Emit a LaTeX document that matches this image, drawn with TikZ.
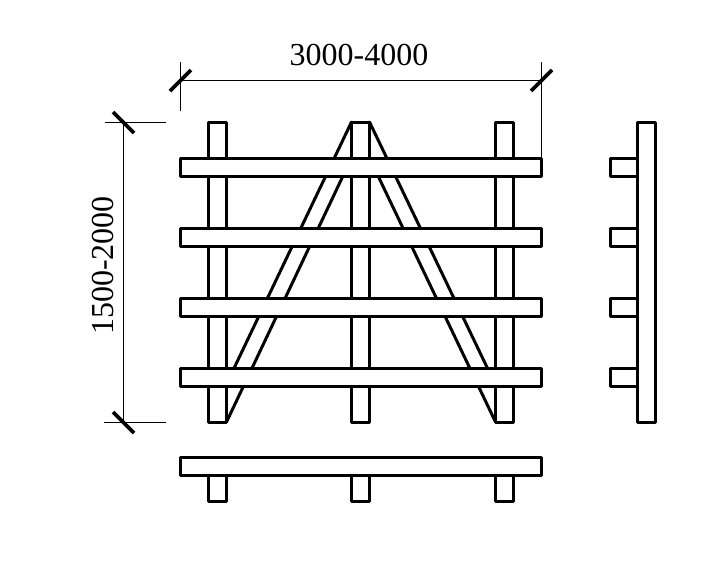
\documentclass[tikz,border=0pt]{standalone}
\usepackage{fontspec}
\setmainfont{Liberation Serif}
\tikzset{
  timber/.style={draw=black,fill=white,line width=3pt,line join=round},
  brace/.style={line width=3pt,line cap=round},
  dimline/.style={line width=1pt},
  dimtick/.style={line width=3.6pt},
  dimtext/.style={font=\fontsize{32}{32}\selectfont,inner sep=0pt}
}
\begin{document}
\begin{tikzpicture}[x=1pt,y=-1pt]
  \useasboundingbox (0,0) rectangle (721,571);
  % braces
  \draw [brace] (351.5,122)--(226.5,384) ;
  \draw [brace] (351.5,158)--(226.5,422) ;
  \draw [brace] (369.5,122)--(495.5,385) ;
  \draw [brace] (369.5,158)--(495.5,422) ;
  % front view
  \foreach \px in {208.5,351.5,495.5}
    \draw [timber] (\px,122) rectangle ++(18,300) ;
  \foreach \py in {158.3,228.3,298.3,368.3}
    \draw [timber] (180.5,\py) rectangle ++(361,18) ;
  % plan
  \foreach \px in {208.5,351.5,495.5}
    \draw [timber] (\px,470) rectangle (\px+18,501) ;
  \draw [timber] (180.5,457.3) rectangle ++(361,18) ;
  % side view
  \foreach \py in {158.3,228.3,298.3,368.3}
    \draw [timber] (610.5,\py) rectangle ++(30,18) ;
  \draw [timber] (637.5,122) rectangle ++(18,300) ;
  % dimensions
  \draw [dimline] (180.5,80.5)--(541.5,80.5) ;
  \draw [dimline] (180.5,62)--(180.5,110.5) ;
  \draw [dimline] (541.5,62)--(541.5,157) ;
  \draw [dimtick] (170,91)--(191,70) ;
  \draw [dimtick] (531,91)--(552,70) ;
  \node (widthlabel) at (359,54.7) [dimtext] {3000-4000};
  \draw [dimline] (123.5,122)--(123.5,422) ;
  \draw [dimline] (105,122)--(166,122) ;
  \draw [dimline] (104,422)--(166,422) ;
  \draw [dimtick] (113,112)--(134,133) ;
  \draw [dimtick] (113,412)--(134,433) ;
  \node (heightlabel) at (103,265.4) [dimtext,rotate=90] {1500-2000};
\end{tikzpicture}
\end{document}
